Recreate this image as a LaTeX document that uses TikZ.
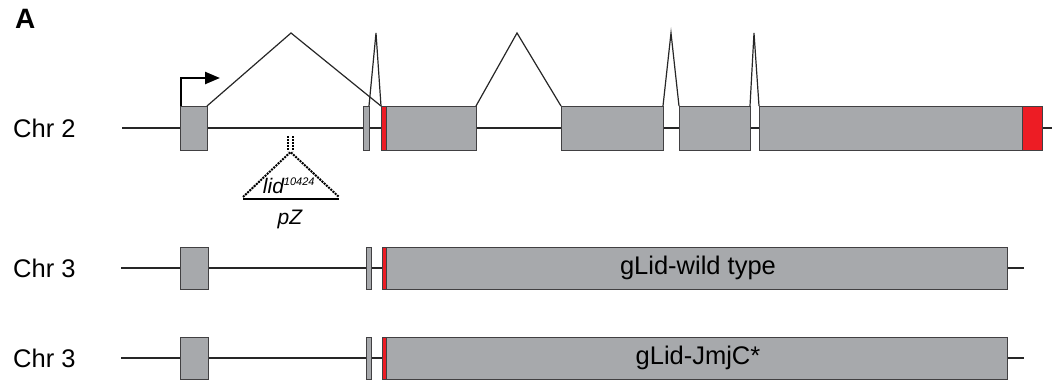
\documentclass[tikz,border=0pt]{standalone}
\usepackage{fontspec}
\setmainfont{Liberation Sans}
\usetikzlibrary{
  arrows.meta,
  positioning,
}
\tikzset{
  >={Triangle[width=12pt,length=15pt]},
  exon/.style={draw=exon_edge, line width=1pt, fill=exon_gray},
  utr/.style={draw=exon_edge, line width=1pt, fill=exon_red},
  intron/.style={draw=black!85, line width=1.3pt},
  splice/.style={draw=black!85, line width=1.2pt, line join=miter},
  chrlabel/.style={anchor=west, inner sep=0pt, font=\fontsize{25.5}{28}\selectfont},
}
\definecolor{exon_gray}{RGB}{167,169,172}
\definecolor{exon_edge}{RGB}{65,64,66}
\definecolor{exon_red}{RGB}{237,28,36}

\begin{document}
\begin{tikzpicture}[x=1pt, y=-1pt]
    \useasboundingbox (0,0) rectangle (1052,381);

    % panel letter
    \node[anchor=north west, inner sep=0pt, font=\fontsize{28}{30}\selectfont\bfseries] (panel) at (15,9) {A};

    % Chr 2: the endogenous locus
    \node[chrlabel] (chrtwo) at (13,128) {Chr 2};
    \draw[intron] (122,128) -- (1052,128);
    \foreach \xa/\xb in {180/207, 363/369, 386/476, 561/663, 679/750, 759/1022} {
      \draw[exon] (\xa,106) rectangle (\xb,150);
    }
    \draw[utr] (381,106) rectangle (386,150);
    \draw[utr] (1022,106) rectangle (1042,150);

    % splicing
    \foreach \xa/\xp/\xb in {207/291/381, 369/376/381, 476/517/561, 663/671/679, 750/754/759} {
      \draw[splice] (\xa,106) -- (\xp,33) -- (\xb,106);
    }

    % transcription start
    \draw[->, line width=2.4pt] (181,106) -- (181,78) -- (220,78);

    % the pZ insertion
    \coordinate (ins) at (290.5,152);
    \draw[densely dotted, line width=2pt] (288,136) -- (288,151);
    \draw[densely dotted, line width=2pt] (293,136) -- (293,151);
    \draw[densely dotted, line width=2pt] (243,197) -- (ins) -- (339,197);
    \draw[line width=2pt] (243,199) -- (339,199);
    \node[font=\fontsize{21}{24}\selectfont\itshape, inner sep=0pt] (allele) at (289,186)
      {lid\textsuperscript{\fontsize{11}{12}\selectfont 10424}};
    \node[font=\fontsize{21}{24}\selectfont\itshape, inner sep=0pt] (pz) at (290,219) {pZ};

    % Chr 3: the two genomic rescue constructs
    \foreach \yc/\txt in {268/gLid-wild type, 358/gLid-JmjC*} {
      \node[chrlabel] at (13,\yc) {Chr 3};
      \draw[intron] (121,\yc) -- (1024,\yc);
      \draw[exon] (180,\yc-21) rectangle (208,\yc+21);
      \draw[exon] (366,\yc-21) rectangle (371,\yc+21);
      \draw[exon] (386,\yc-21) rectangle (1007,\yc+21);
      \draw[utr] (382,\yc-21) rectangle (386,\yc+21);
      \node[font=\fontsize{25.5}{28}\selectfont] at (698,\yc) {\txt};
    }
\end{tikzpicture}
\end{document}
